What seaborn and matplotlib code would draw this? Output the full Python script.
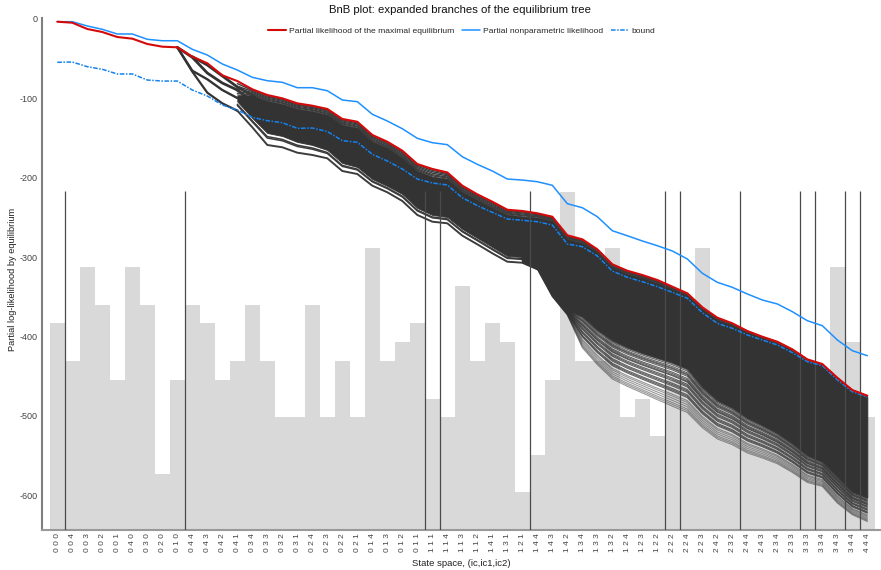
import numpy as np
import matplotlib
matplotlib.use("Agg")
import matplotlib.pyplot as plt
import seaborn as sns

sns.set_theme(style="white")
plt.rcParams['font.family'] = ['Liberation Sans', 'DejaVu Sans']

states = ["0 0 0","0 0 4","0 0 3","0 0 2","0 0 1","0 4 0","0 3 0","0 2 0","0 1 0",
          "0 4 4","0 4 3","0 4 2","0 4 1","0 3 4","0 3 3","0 3 2","0 3 1",
          "0 2 4","0 2 3","0 2 2","0 2 1","0 1 4","0 1 3","0 1 2","0 1 1",
          "1 1 1","1 1 4","1 1 3","1 1 2","1 4 1","1 3 1","1 2 1",
          "1 4 4","1 4 3","1 4 2","1 3 4","1 3 3","1 3 2","1 2 4","1 2 3","1 2 2",
          "2 2 2","2 2 4","2 2 3","2 4 2","2 3 2","2 4 4","2 4 3","2 3 4","2 3 3",
          "3 3 3","3 3 4","3 4 3","3 4 4","4 4 4"]

counts = [11,9,14,12,8,14,12,3,8,12,11,8,9,12,9,6,6,12,6,9,6,15,9,10,11,
          7,6,13,9,11,10,2,4,8,18,9,9,15,6,7,5,8,8,15,7,7,7,7,7,7,7,7,14,10,6]

split_after = [0,8,24,25,31,40,41,45,49,50,52,53]

maximal = [-3.4,-4.7,-12.6,-16.4,-22.7,-24.8,-31.5,-34.9,-35.7,-47.5,-55.8,-71,-78.2,-88.6,-95.8,
           -100,-106.3,-109.3,-113.4,-126,-129.5,-146.2,-154.7,-166,-182.8,-189,-193.4,-210.1,
           -221,-230.3,-240.4,-242,-244.9,-249.2,-272.6,-277.7,-290.3,-309.2,-317.3,-322.7,-329,
           -337.4,-345.8,-363.4,-376.5,-383.6,-393.3,-400.5,-406.8,-416.4,-429,-434.9,-452.2,-467.7,-474.8]

nonparam = [-3.4,-3.4,-8.8,-13,-18.9,-18.9,-25.6,-27.4,-27.4,-38.2,-45.4,-56.7,-64.3,-73.5,-77.8,
            -79.8,-86.6,-86.6,-90.4,-102.1,-104.2,-120.1,-128.6,-138.3,-150.4,-155.9,-158.4,-173.6,
            -183.2,-191.6,-201.7,-203,-205.1,-209.6,-232.8,-237.9,-249.2,-266.9,-273.2,-279.8,-285.8,
            -292.4,-302.5,-320.5,-331.9,-338.2,-346.6,-354.2,-359.2,-368.9,-380.3,-386.6,-404.6,-418.1,-424.4]

bound = [-54.6,-54.2,-60.1,-63.4,-69.3,-69.3,-76.9,-78.2,-78.2,-89.5,-97.1,-108.4,-114.7,-123.9,-128.2,
         -130.7,-137.8,-137.4,-141.8,-153.4,-155.4,-170.5,-179,-189,-201.7,-206.7,-209.2,-225.3,
         -235.3,-243.7,-252.1,-253.7,-255.5,-259.7,-283.6,-287,-298.7,-317.7,-325.6,-331.1,-337.4,
         -344.5,-352,-370.2,-383.6,-389.9,-398.3,-404.6,-410.9,-420.6,-431.9,-437,-455,-469.8,-476.5]

# lowest branch of the tree, from state index 8 onwards
lowest = [-35.7,-66.4,-92.9,-106.3,-115.6,-136.5,-158.8,-161.7,-168.5,-171.4,-175.6,-191.6,-195.4,
          -210.1,-218.4,-229.4,-247,-255.5,-257.5,-273.1,-284,-295.3,-305.9,-307.2,-315.5,-350,
          -373.1,-414.7,-436.1,-454.2,-463.5,-471.8,-480.3,-488.5,-496.6,-515.6,-529.8,-537,-547.4,
          -553.7,-560.9,-571.9,-584.5,-589.5,-610.5,-625.2,-633.7]

# upper and lower edge of the opaque mass of branches, from state index 12 onwards
mass_top = [-96,-96,-103,-107,-113,-116,-120.5,-133,-137,-154.3,-162,-174.7,-191.1,
            -198.7,-201.2,-217.6,-227.7,-237.8,-246.3,-248.8,-250.1,-254,-277,-282,-293.5,
            -312.5,-321,-326,-332.5,-340,-347.7,-365.3,-379,-385.5,-394.3,-402,-408,-418,
            -431,-437,-453.5,-468.8,-476.3]
mass_low = [-104,-124.8,-143.7,-147.5,-155,-158.8,-165.1,-181.5,-186.6,-201.7,-210.5,-220.6,-238.2,
            -247,-249.6,-264.7,-276,-287.4,-298.7,-300,-308.8,-344.1,-366.8,-375,-392,-405,
            -414,-421,-427,-433,-441,-464,-481,-490,-503,-512,-522,-535,
            -550,-558,-577,-596,-603]

# early branches, state indices 8/9 to 12/13
branch_b = [-35.7,-65.2,-76,-89.5,-99.6]
branch_c = [-35.7,-48.3,-68.1,-80.7,-89.5,-104.2]
branch_d = [-47.5,-58,-71.8,-85.7,-96,-112]

upper_positions = [0.18, 0.36, 0.55, 0.75, 0.9]
early_lower_positions = [0.3, 0.42, 1.0]
late_lower_positions = [0.02,0.05,0.09,0.12,0.14,0.17,0.22,0.25,0.28,0.3,0.35,0.38,0.41,
                        0.47,0.5,0.53,0.59,0.62,0.65,0.72,0.76,0.81,0.86,0.91,0.95,0.99]

n = len(states)
xs = np.arange(n)
AX_RECT = [42/881, 40/570, 1-42/881, 512/570]

def tail(values):
    """Align a tail series with the state axis."""
    out = np.full(n, np.nan)
    out[n-len(values):] = values
    return out

def head(values, start):
    out = np.full(n, np.nan)
    out[start:start+len(values)] = values
    return out

fig = plt.figure(figsize=(8.81, 5.70), dpi=100)
ax_bar = fig.add_axes(AX_RECT)
ax = fig.add_axes(AX_RECT, facecolor='none')

sns.barplot(x=states, y=counts, order=states, color='#d9d9d9', saturation=1, width=1.0,
            linewidth=0, ax=ax_bar)
ax_bar.set_xlim(-1.02, 54.91)
ax_bar.set_ylim(0, 27.27)
ax_bar.axis('off')

line_kw = dict(estimator=None, legend=False, ax=ax)
red_arr = np.array(maximal)
low_arr = tail(lowest)
top_arr = tail(mass_top)
bot_arr = tail(mass_low)

ax.fill_between(xs[12:], top_arr[12:], bot_arr[12:], color='#333333', lw=0.6, zorder=2)

sns.lineplot(x=xs, y=head(branch_b, 8), color='#333333', lw=1.7, zorder=2, **line_kw)
sns.lineplot(x=xs, y=head(branch_c, 8), color='#333333', lw=2.0, zorder=2, **line_kw)
sns.lineplot(x=xs, y=head(branch_d, 9), color='#333333', lw=2.0, zorder=2, **line_kw)

for f in upper_positions:
    y = red_arr + f*(top_arr-red_arr)
    y[12] = red_arr[12] + f*(top_arr[12]-red_arr[12])
    y[:12] = np.nan
    sns.lineplot(x=xs, y=y, color='#3c3c3c', lw=1.0, zorder=2, **line_kw)

# dark lines below the mass up to state index 32, then fading out into the fan
for f in early_lower_positions:
    y = bot_arr + f*(low_arr-bot_arr)
    y[12] = low_arr[12] + (1-f)*(bot_arr[12]-low_arr[12])
    y[33:] = np.nan
    sns.lineplot(x=xs, y=y, color='#3c3c3c', lw=1.4 if f == 1.0 else 1.1, zorder=2, **line_kw)
sns.lineplot(x=xs, y=head(lowest[:5], 8), color='#333333', lw=1.6, zorder=2, **line_kw)

for f in late_lower_positions:
    y = bot_arr + f*(low_arr-bot_arr)
    y[:31] = np.nan
    shade = 0.75 if f < 0.7 else 0.5
    sns.lineplot(x=xs, y=y, color='#333333', lw=0.8, alpha=shade, zorder=2, **line_kw)

ax.vlines(np.array(split_after)+0.5, -644, -217, color='#4a4a4a', lw=0.9, zorder=3)

sns.lineplot(x=xs, y=nonparam, color='#1e90ff', lw=1.1, zorder=5, estimator=None, ax=ax,
             label='Partial nonparametric likelihood')
sns.lineplot(x=xs, y=bound, color='#1482f0', lw=1.1, zorder=5, estimator=None, ax=ax,
             linestyle=(0, (3, 1, 1, 1)), label='bound')
sns.lineplot(x=xs, y=maximal, color='#d40a0a', lw=1.5, zorder=6, estimator=None, ax=ax,
             label='Partial likelihood of the maximal equilibrium')

ax.set_xlim(-1.02, 54.91)
ax.set_ylim(-644.1, 1.26)
ax.set_xticks(xs)
ax.set_xticklabels(states, rotation=90, fontsize=6, color='#444444')
ax.set_yticks([0, -100, -200, -300, -400, -500, -600])
ax.set_yticklabels(['0', '-100', '-200', '-300', '-400', '-500', '-600'], fontsize=6.5, color='#444444')
ax.tick_params(axis='both', length=0)
ax.tick_params(axis='y', pad=3)
ax.tick_params(axis='x', pad=2.5)
ax.set_xlabel('State space, (ic,ic1,ic2)', fontsize=6.8, color='#222222', va='center')
ax.set_ylabel('Partial log-likelihood by equilibrium', fontsize=6.7, color='#222222', va='center')
ax.xaxis.set_label_coords((461.5-42)/839, -34/512)
ax.yaxis.set_label_coords(-29/839, (530-279)/512)
for side in ('top', 'right'):
    ax.spines[side].set_visible(False)
ax.spines['left'].set_color('#808080')
ax.spines['left'].set_linewidth(1.5)
ax.spines['bottom'].set_color('#999999')
ax.spines['bottom'].set_linewidth(1.5)

h, l = ax.get_legend_handles_labels()
order = [2, 0, 1]
ax.legend([h[i] for i in order], [l[i] for i in order], loc='center', bbox_to_anchor=(0.5, 0.975),
          ncol=3, frameon=False, fontsize=6.1, handlelength=2.2, columnspacing=0.9, handletextpad=0.3)
fig.text(460/881, 1-10/570, 'BnB plot: expanded branches of the equilibrium tree', ha='center', va='center',
         fontsize=8.2, color='#111111')

fig.savefig('out.png', dpi=100)
